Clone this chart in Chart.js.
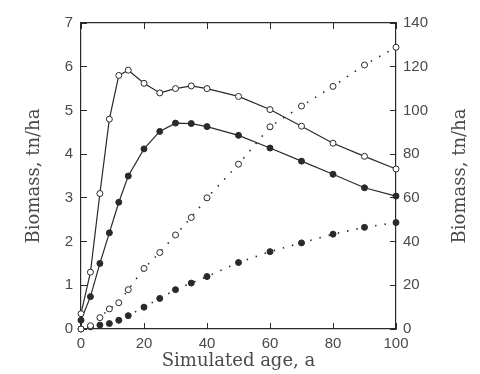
<!DOCTYPE html>
<html>
<head>
<meta charset="utf-8">
<script src="https://cdn.jsdelivr.net/npm/chart.js@4"></script>
<style>
	html, body { margin: 0; padding: 0; background: #fff; }
	#wrap { width: 480px; height: 374px; }
</style>
</head>
<body>
<div id="wrap"><canvas id="biomassChart"></canvas></div>
<script>
// simulated stand age, years
const ages = [0, 3, 6, 9, 12, 15, 20, 25, 30, 35, 40, 50, 60, 70, 80, 90, 100];

// left axis (tn/ha), solid lines
const openSolid = [0.35, 1.3, 3.1, 4.8, 5.8, 5.92, 5.62, 5.4, 5.5, 5.56, 5.5, 5.32, 5.02, 4.64, 4.25, 3.95, 3.66];
const filledSolid = [0.2, 0.74, 1.5, 2.2, 2.9, 3.5, 4.12, 4.52, 4.71, 4.7, 4.63, 4.43, 4.14, 3.84, 3.54, 3.23, 3.04];

// right axis (tn/ha), dotted lines
const openDotted = [0, 1.5, 5.2, 9.2, 12, 18, 27.7, 35, 43, 51, 60, 75.4, 92.5, 102, 111, 120.8, 128.9];
const filledDotted = [0, 1, 1.8, 2.5, 4, 6.1, 10, 14, 18, 21, 24, 30.4, 35.4, 39.4, 43.4, 46.5, 48.7];

const leftTicks = { min: 0, max: 7, step: 1 };
const rightTicks = { min: 0, max: 140, step: 20 };
const ageTicks = { min: 0, max: 100, step: 20 };

const yTitle = 'Biomass, tn/ha';
const xTitle = 'Simulated age, a';

const INK = '#2a2a2a';
const TEXT = '#4a4a4a';

function series(values, filled, dotted, axis) {
	return {
		data: ages.map((a, i) => ({ x: a, y: values[i] })),
		yAxisID: axis,
		borderColor: INK,
		borderWidth: dotted ? 1.6 : 1.2,
		borderDash: dotted ? [1.5, 8] : [],
		pointRadius: 3,
		pointBorderWidth: 1,
		pointBorderColor: INK,
		pointBackgroundColor: filled ? INK : '#fff',
		tension: 0,
		clip: false
	};
}

const tickFont = { family: 'Liberation Sans', size: 15 };
const titleFont = { family: 'DejaVu Serif', size: 18 };

function frameGrid() {
	return { drawOnChartArea: false, drawTicks: true, tickLength: -6, color: INK, lineWidth: 1 };
}

// right-hand title reads bottom-to-top like the left one
const rightTitle = {
	id: 'rightTitle',
	afterDraw(chart) {
		const s = chart.scales.y2;
		const ctx = chart.ctx;
		ctx.save();
		ctx.translate(s.right - 20, (s.top + s.bottom) / 2);
		ctx.rotate(-Math.PI / 2);
		ctx.font = `${titleFont.size}px "${titleFont.family}"`;
		ctx.fillStyle = TEXT;
		ctx.textAlign = 'center';
		ctx.textBaseline = 'middle';
		ctx.fillText(yTitle, 0, 0);
		ctx.restore();
	}
};

new Chart(document.getElementById('biomassChart'), {
	type: 'line',
	data: {
		datasets: [
			series(openDotted, false, true, 'y2'),
			series(filledDotted, true, true, 'y2'),
			series(openSolid, false, false, 'y'),
			series(filledSolid, true, false, 'y')
		]
	},
	options: {
		responsive: true,
		maintainAspectRatio: false,
		animation: false,
		layout: { padding: 0 },
		plugins: { legend: { display: false }, tooltip: { enabled: false } },
		scales: {
			x: {
				type: 'linear', position: 'bottom',
				min: ageTicks.min, max: ageTicks.max,
				ticks: { stepSize: ageTicks.step, font: tickFont, color: TEXT, padding: 12, maxRotation: 0 },
				grid: frameGrid(),
				border: { color: INK, width: 1.2 },
				title: { display: true, text: xTitle, font: titleFont, color: TEXT, padding: { top: 0, bottom: 2 } },
				afterFit: s => { s.height = 45; }
			},
			x2: {
				type: 'linear', position: 'top',
				min: ageTicks.min, max: ageTicks.max,
				ticks: { stepSize: ageTicks.step, display: false },
				grid: frameGrid(),
				border: { color: INK, width: 1.2 },
				afterFit: s => { s.height = 14; }
			},
			y: {
				type: 'linear', position: 'left',
				min: leftTicks.min, max: leftTicks.max,
				ticks: { stepSize: leftTicks.step, font: tickFont, color: TEXT, padding: 14 },
				grid: frameGrid(),
				border: { color: INK, width: 1.2 },
				title: { display: true, text: yTitle, font: titleFont, color: TEXT, padding: { top: 24, bottom: 0 } },
				afterFit: s => { s.width = 81; }
			},
			y2: {
				type: 'linear', position: 'right',
				min: rightTicks.min, max: rightTicks.max,
				ticks: { stepSize: rightTicks.step, font: tickFont, color: TEXT, padding: 13 },
				grid: frameGrid(),
				border: { color: INK, width: 1.2 },
				afterFit: s => { s.width = 84; }
			}
		}
	},
	plugins: [rightTitle]
});
</script>
</body>
</html>
